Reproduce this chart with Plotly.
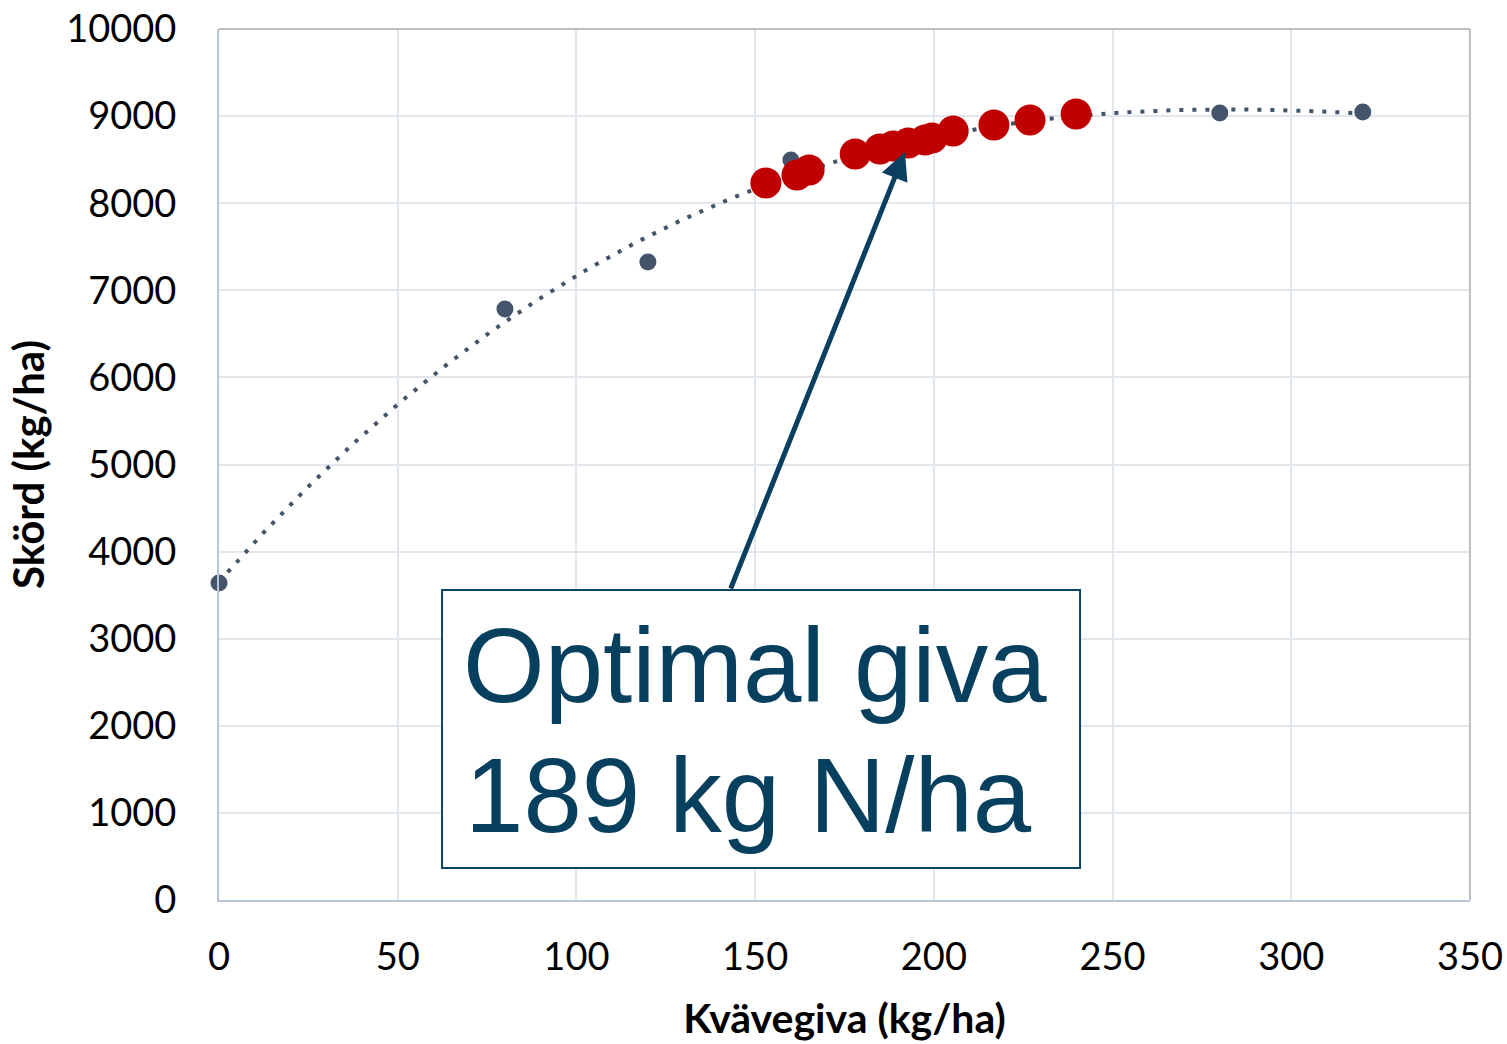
import numpy as np
import plotly.graph_objects as go

# Observed trial data (gray points)
obs_n = [0, 80, 120, 160, 280, 320]
obs_yield = [3640, 6785, 7325, 8496, 9036, 9047]

# Optimal doses (red points) on the response curve
opt_n = [153.0, 161.7, 165.1, 178.0, 184.9, 188.6, 192.8, 197.5, 199.5, 205.4, 216.8, 226.9, 239.8]
opt_yield = [8232, 8324, 8381, 8565, 8622, 8657, 8691, 8726, 8749, 8829, 8898, 8955, 9024]

x_ticks = [0, 50, 100, 150, 200, 250, 300, 350]
y_ticks = [0, 1000, 2000, 3000, 4000, 5000, 6000, 7000, 8000, 9000, 10000]

# Polynomial trendline fitted to observed data (as in the spreadsheet)
coef = np.polyfit(obs_n, obs_yield, 3)
trend_x = np.linspace(min(obs_n), max(obs_n), 200)
trend_y = np.polyval(coef, trend_x)

GRAY = "#44546a"
RED = "#c00000"
NAVY = "#07405f"

fig = go.Figure()
fig.add_trace(go.Scatter(x=trend_x, y=trend_y, mode="lines",
                         line=dict(color=GRAY, width=4, dash="4px,9px"),
                         hoverinfo="skip", showlegend=False))
fig.add_trace(go.Scatter(x=obs_n, y=obs_yield, mode="markers",
                         marker=dict(color=GRAY, size=17),
                         cliponaxis=False, showlegend=False))
fig.add_trace(go.Scatter(x=opt_n, y=opt_yield, mode="markers",
                         marker=dict(color=RED, size=31),
                         cliponaxis=False, showlegend=False))

# Box for the label
fig.add_shape(type="rect", xref="x", yref="y", x0=62.4, x1=240.9, y0=367, y1=3559,
              line=dict(color="#0e4466", width=2), fillcolor="white", layer="above")
# Top and right frame
fig.add_shape(type="line", xref="paper", yref="paper", x0=0, x1=1, y0=1, y1=1,
              line=dict(color="#bfbfbf", width=2))
fig.add_shape(type="line", xref="paper", yref="paper", x0=1, x1=1, y0=0, y1=1,
              line=dict(color="#bfbfbf", width=2))

fig.add_annotation(x=191.9, y=8588, ax=143, ay=3559, axref="x", ayref="y",
                   xref="x", yref="y", text="", showarrow=True,
                   arrowhead=2, arrowsize=1.1, arrowwidth=5, arrowcolor="#0b3f60",
                   standoff=0, startstandoff=0)
fig.add_annotation(x=67.7, y=2687, xref="x", yref="y", text="Optimal giva",
                   showarrow=False, xanchor="left", yanchor="middle",
                   font=dict(family="Liberation Sans, Arial", size=105, color=NAVY))
fig.add_annotation(x=68.3, y=1205, xref="x", yref="y", text="189 kg N/ha",
                   showarrow=False, xanchor="left", yanchor="middle",
                   font=dict(family="Liberation Sans, Arial", size=105, color=NAVY))

fig.update_layout(
    width=1507, height=1044,
    margin=dict(l=219, r=37, t=29, b=144, autoexpand=False),
    paper_bgcolor="white", plot_bgcolor="white",
    font=dict(family="Lato", color="#000000"),
    showlegend=False,
)
fig.update_xaxes(range=[0, 350], tickvals=x_ticks, ticktext=[str(v) for v in x_ticks],
                 automargin=False, ticklabeloverflow="allow",
                 showgrid=True, gridcolor="#e2e6ed", gridwidth=1.5,
                 showline=True, linecolor="#b9c5d9", linewidth=2,
                 zeroline=False, ticks="", tickfont=dict(size=38, family="Lato"),
                 ticklabelstandoff=22,
                 title=dict(text="<b>Kvävegiva (kg/ha)</b>", font=dict(size=41, family="Lato"), standoff=28))
fig.update_yaxes(range=[0, 10000], tickvals=y_ticks, ticktext=[str(v) for v in y_ticks],
                 automargin=False, ticklabeloverflow="allow",
                 showgrid=True, gridcolor="#e2e6ed", gridwidth=1.5,
                 showline=True, linecolor="#b9c5d9", linewidth=2,
                 zeroline=False, ticks="", tickfont=dict(size=38, family="Lato"),
                 ticklabelstandoff=33,
                 title=dict(text="<b>Skörd (kg/ha)</b>", font=dict(size=42, family="Lato"), standoff=8))

fig.write_html("out.html", config={"displayModeBar": False},
               post_script="document.body.style.margin='0px';document.body.style.overflow='hidden';")
